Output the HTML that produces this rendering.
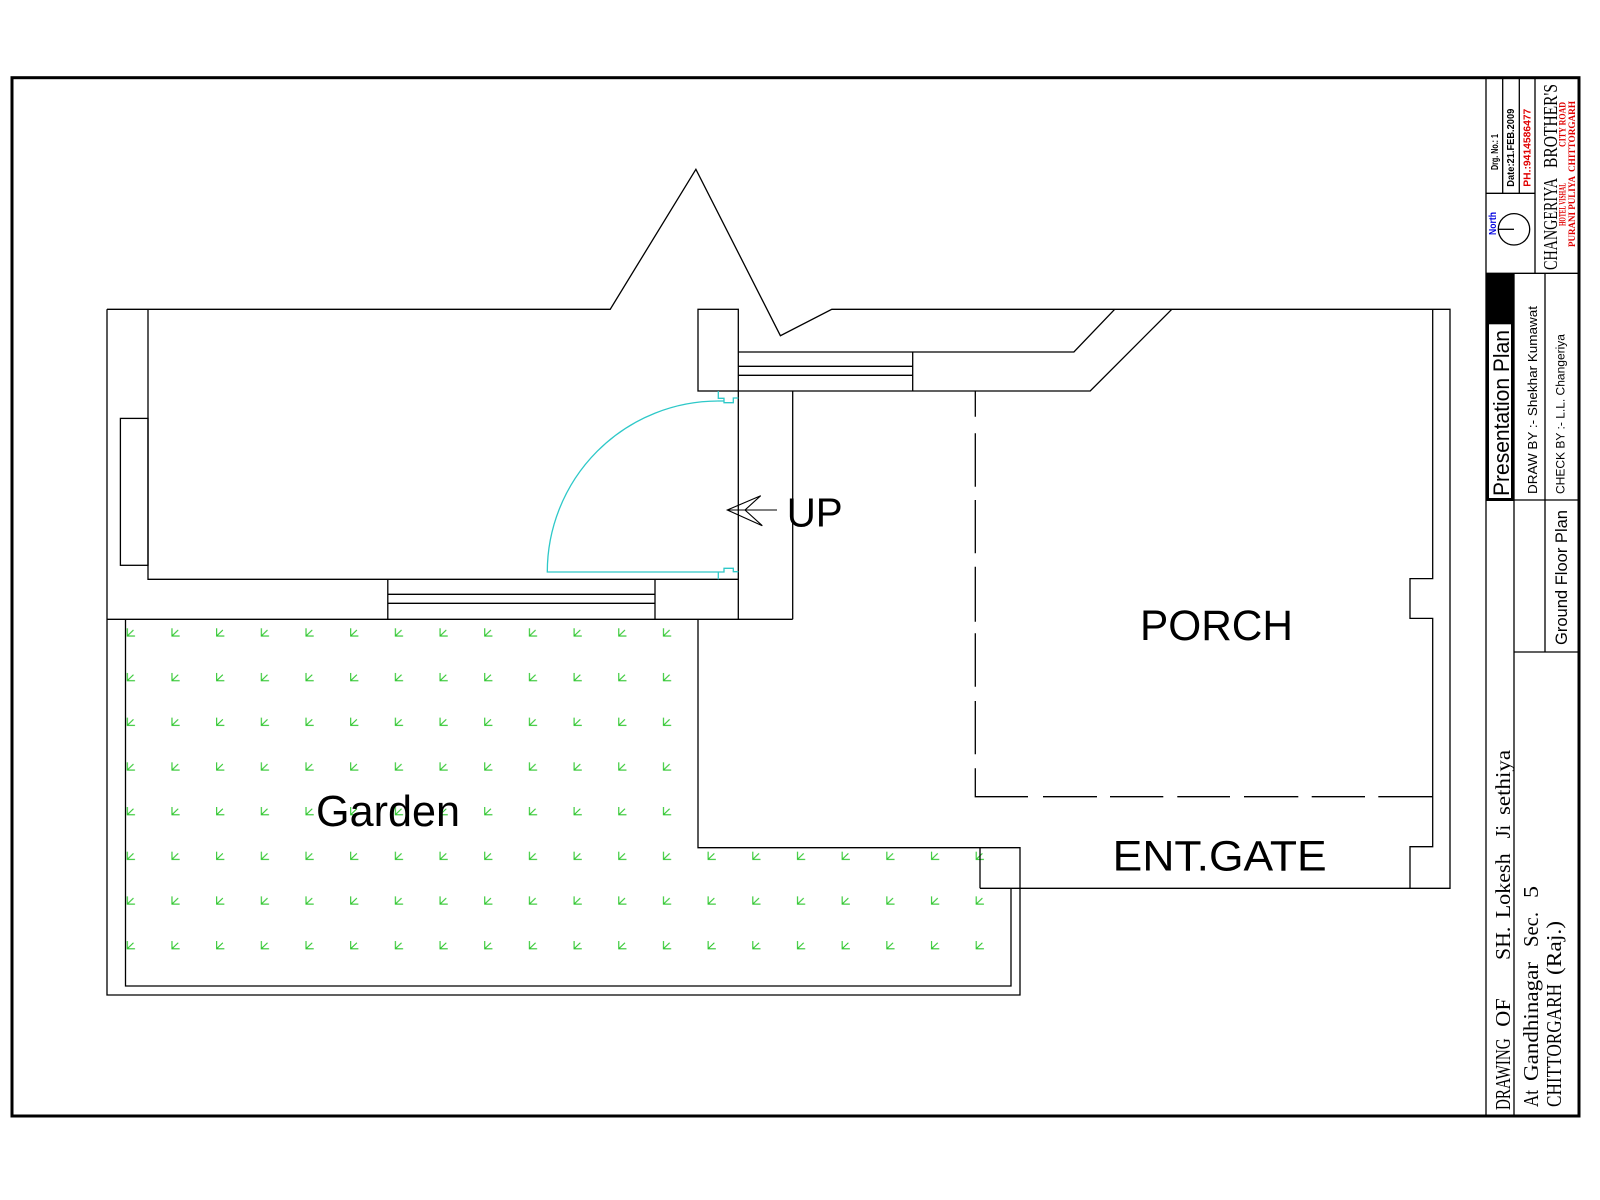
<!DOCTYPE html>
<html>
<head>
<meta charset="utf-8">
<style>
html,body{margin:0;padding:0;background:#fff;}
svg{display:block;}
</style>
</head>
<body>
<svg width="1600" height="1200" viewBox="0 0 1600 1200" xmlns="http://www.w3.org/2000/svg">
<defs>
<pattern id="gp" patternUnits="userSpaceOnUse" x="122.7" y="624.3" width="44.68" height="44.68">
<path d="M4.6,4 V11.7 H12.3 M4.6,11.7 L10.8,5.7" fill="none" stroke="#2cc62c" stroke-width="1.1"/>
</pattern>
</defs>
<rect width="1600" height="1200" fill="#fff"/>

<!-- garden symbols -->
<rect x="122.7" y="624.3" width="580.8" height="223.4" fill="url(#gp)"/>
<rect x="122.7" y="847.7" width="893.6" height="134.1" fill="url(#gp)"/>

<!-- sheet border -->
<rect x="12" y="77.7" width="1567" height="1038.3" fill="none" stroke="#000" stroke-width="3"/>

<g fill="none" stroke="#000" stroke-width="1.3">
<path d="M107,309.3 H610.2 L695.9,169.3 L780.4,335.7 L831.8,309.3 H1450 V888.3 H980"/>
<path d="M107,309.3 V995 H1020 V847.7 H698 V619.3"/>
<path d="M125.5,619.3 V986 H1011 V888.3"/>
<path d="M980,847.7 V888.3"/>
<path d="M107,619.3 H792.7"/>
<path d="M148,309.3 V579.3 H738.3"/>
<rect x="120.4" y="418.4" width="27.6" height="146.9"/>
<path d="M387.8,594.3 H655 M387.8,603.3 H655 M387.8,579.3 V619.3 M655,579.3 V619.3"/>
<rect x="698" y="309.3" width="40.3" height="81.7"/>
<path d="M738.3,352 H1073.9 L1114.7,309.3"/>
<path d="M738.3,366.3 H912.7 M738.3,375.3 H912.7 M912.7,352 V391"/>
<path d="M738.3,391 H1090.2 L1171.8,309.3"/>
<path d="M738.3,391 V619.3 M792.7,391 V619.3"/>
<path d="M1432.7,309.3 V578.6 H1410 V618.4 H1432.7 V846.7 H1410 V888.3"/>
<path d="M727.3,510 H777 M727.3,510 L760.7,495.7 L745,510 L762.3,525.7 Z" stroke-width="1.1"/>
</g>

<!-- dashed porch line -->
<g stroke="#000" stroke-width="1.3" fill="none">
<path d="M975.3,391 V416.7 M975.3,433.3 V486.7 M975.3,500 V553.3 M975.3,566.7 V621.7 M975.3,633.3 V686.7 M975.3,701 V754.3 M975.3,768.3 V796.7 H1028 M1043,796.7 H1097 M1110,796.7 H1163.3 M1177.3,796.7 H1230 M1244,796.7 H1298.3 M1311.7,796.7 H1365 M1378.3,796.7 H1432.7"/>
</g>

<!-- door (cyan) -->
<g fill="none" stroke="#2ec8c8" stroke-width="1.3">
<path d="M718,401 A171,171 0 0 0 547.3,572 H724 V568.3 H733.3 V571.7 H738.3"/>
<path d="M718.3,391 V398.3 H724 V402.7 H733.3 V398 H738.3"/>
<path d="M718.3,571.7 V579.3"/>
<path d="M718,401 H724"/>
</g>

<!-- plan labels -->
<g font-family="'Liberation Sans', Arial, sans-serif" fill="#000">
<text x="786.7" y="526.7" font-size="41" textLength="56" lengthAdjust="spacingAndGlyphs">UP</text>
<text x="1140" y="640" font-size="43" textLength="153" lengthAdjust="spacingAndGlyphs">PORCH</text>
<text x="1112.7" y="870.7" font-size="43" textLength="214" lengthAdjust="spacingAndGlyphs">ENT.GATE</text>
<text x="316" y="826" font-size="44" textLength="144" lengthAdjust="spacingAndGlyphs">Garden</text>
</g>

<!-- title block lines -->
<g fill="none" stroke="#000" stroke-width="1.3">
<path d="M1486,77.7 V1116"/>
<path d="M1486,193.3 H1535"/>
<path d="M1486,273.3 H1579"/>
<path d="M1502.7,77.7 V193.3 M1519.3,77.7 V193.3 M1535,77.7 V273.3"/>
<path d="M1514,273.3 V1116"/>
<path d="M1545,273.3 V652"/>
<path d="M1514,500 H1579 M1514,652 H1579"/>
<circle cx="1514" cy="229.3" r="15.7"/>
<path d="M1498.3,229.3 H1514"/>
</g>
<!-- presentation box -->
<rect x="1486" y="273.3" width="28" height="51" fill="#000"/>
<rect x="1487.5" y="322" width="25" height="177.5" fill="none" stroke="#000" stroke-width="3"/>

<!-- title block texts (rotated) -->
<g font-family="'Liberation Sans', Arial, sans-serif" font-weight="bold" font-size="10">
<text transform="translate(1498,170) rotate(-90)" textLength="36" lengthAdjust="spacingAndGlyphs" fill="#000">Drg. No.: 1</text>
<text transform="translate(1514,186.7) rotate(-90)" textLength="78" lengthAdjust="spacingAndGlyphs" fill="#000">Date:21.FEB.2009</text>
<text transform="translate(1530.5,186.7) rotate(-90)" textLength="78" lengthAdjust="spacingAndGlyphs" fill="#e00000">PH.:9414586477</text>
<text transform="translate(1496,235) rotate(-90)" textLength="23" lengthAdjust="spacingAndGlyphs" fill="#0000e0">North</text>
</g>
<g font-family="'Liberation Serif', 'Times New Roman', serif">
<text transform="translate(1557,270) rotate(-90)" font-size="20" textLength="92" lengthAdjust="spacingAndGlyphs" fill="#000">CHANGERIYA</text>
<text transform="translate(1557,168) rotate(-90)" font-size="20" textLength="84" lengthAdjust="spacingAndGlyphs" fill="#000">BROTHER'S</text>
<text transform="translate(1565.5,226) rotate(-90)" font-size="9.5" font-weight="bold" textLength="43" lengthAdjust="spacingAndGlyphs" fill="#e00000">HOTEL VISHAL</text>
<text transform="translate(1565.5,147) rotate(-90)" font-size="9.5" font-weight="bold" textLength="45" lengthAdjust="spacingAndGlyphs" fill="#e00000">CITY ROAD</text>
<text transform="translate(1575,247) rotate(-90)" font-size="9.5" font-weight="bold" textLength="71" lengthAdjust="spacingAndGlyphs" fill="#e00000">PURANI PULIYA</text>
<text transform="translate(1575,172) rotate(-90)" font-size="9.5" font-weight="bold" textLength="71" lengthAdjust="spacingAndGlyphs" fill="#e00000">CHITTORGARH</text>
</g>

<g font-family="'Liberation Sans', Arial, sans-serif" fill="#000">
<text transform="translate(1509,496) rotate(-90)" font-size="22" textLength="166" lengthAdjust="spacingAndGlyphs">Presentation  Plan</text>
<text transform="translate(1537,494) rotate(-90)" font-size="13" textLength="188" lengthAdjust="spacingAndGlyphs">DRAW BY :- Shekhar Kumawat</text>
<text transform="translate(1564.5,494) rotate(-90)" font-size="11.5" textLength="160" lengthAdjust="spacingAndGlyphs">CHECK BY :- L.L. Changeriya</text>
<text transform="translate(1567,645) rotate(-90)" font-size="16.3" textLength="135" lengthAdjust="spacingAndGlyphs">Ground Floor Plan</text>
</g>

<g font-family="'Liberation Serif', 'Times New Roman', serif" font-size="21" fill="#000">
<text transform="translate(1510,1110) rotate(-90)" textLength="71.7" lengthAdjust="spacingAndGlyphs">DRAWING</text>
<text transform="translate(1510,1026.7) rotate(-90)" textLength="28.4" lengthAdjust="spacingAndGlyphs">OF</text>
<text transform="translate(1510,960) rotate(-90)" textLength="33.3" lengthAdjust="spacingAndGlyphs">SH.</text>
<text transform="translate(1510,918.3) rotate(-90)" textLength="65" lengthAdjust="spacingAndGlyphs">Lokesh</text>
<text transform="translate(1510,838.3) rotate(-90)" textLength="13.3" lengthAdjust="spacingAndGlyphs">Ji</text>
<text transform="translate(1510,815) rotate(-90)" textLength="65" lengthAdjust="spacingAndGlyphs">sethiya</text>

<text transform="translate(1538,1107) rotate(-90)" textLength="17" lengthAdjust="spacingAndGlyphs">At</text>
<text transform="translate(1538,1081) rotate(-90)" textLength="119" lengthAdjust="spacingAndGlyphs">Gandhinagar</text>
<text transform="translate(1538,947) rotate(-90)" textLength="35" lengthAdjust="spacingAndGlyphs">Sec.</text>
<text transform="translate(1538,898) rotate(-90)" textLength="12" lengthAdjust="spacingAndGlyphs">5</text>

<text transform="translate(1561,1107) rotate(-90)" textLength="123" lengthAdjust="spacingAndGlyphs">CHITTORGARH</text>
<text transform="translate(1561,975) rotate(-90)" textLength="54" lengthAdjust="spacingAndGlyphs">(Raj.)</text>
</g>
</svg>
</body>
</html>
